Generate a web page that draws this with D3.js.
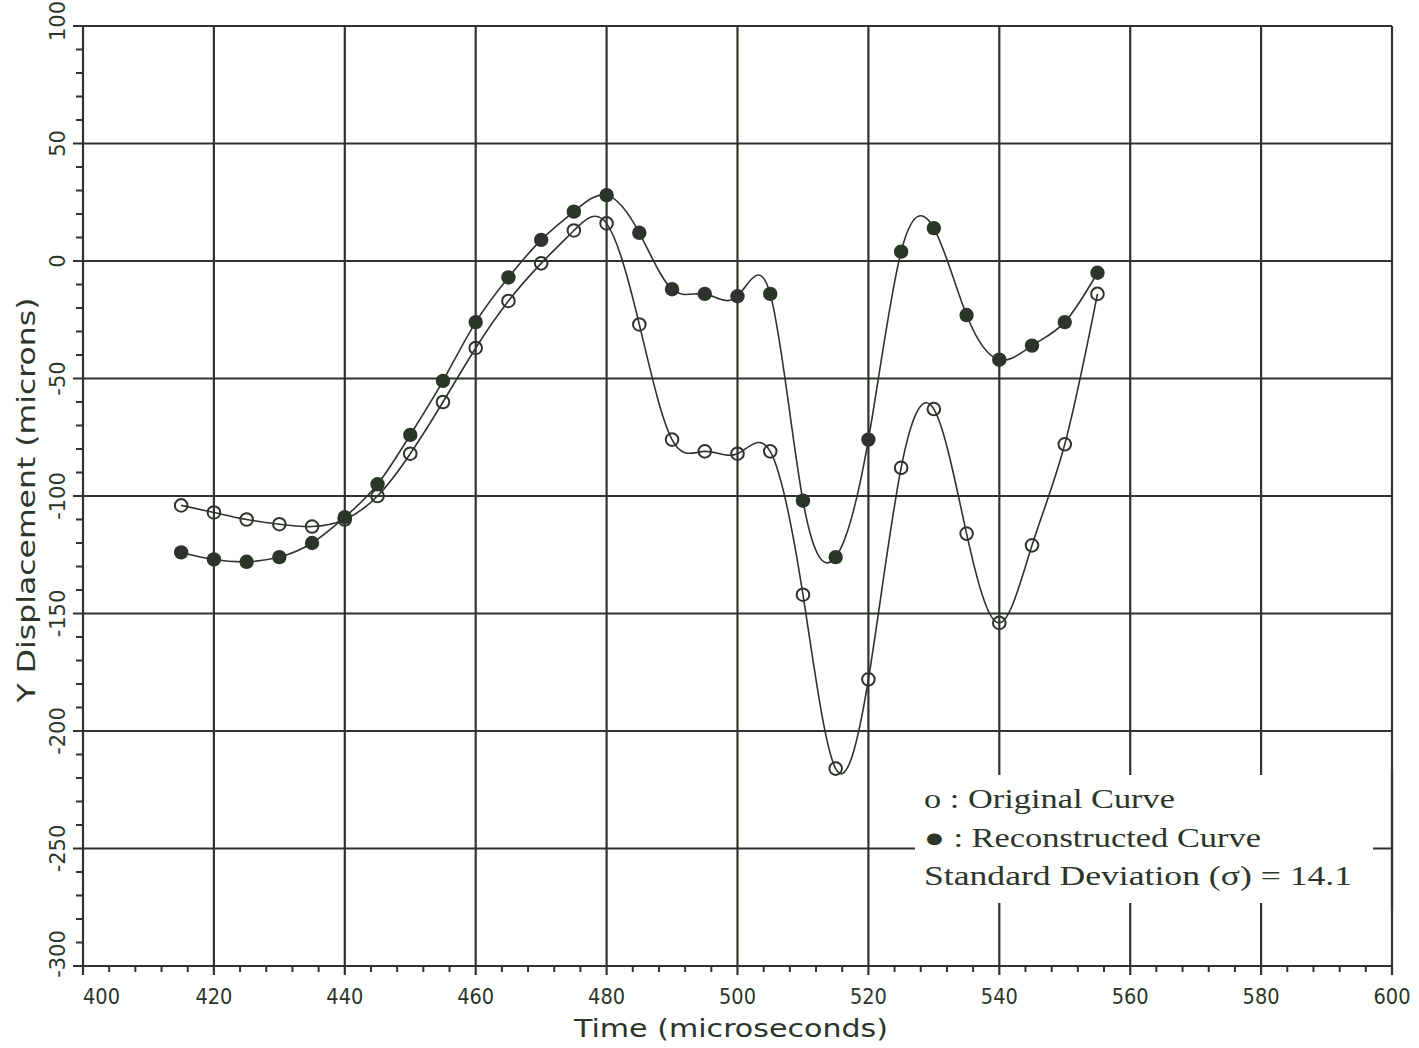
<!DOCTYPE html>
<html>
<head>
<meta charset="utf-8">
<script src="https://cdn.jsdelivr.net/npm/d3@7"></script>
<style>
  html, body { margin: 0; padding: 0; background: #ffffff; }
  svg { display: block; }
</style>
</head>
<body>
<svg id="chart" width="1419" height="1048"></svg>
<script>
// Sample times (microseconds)
const times = [415, 420, 425, 430, 435, 440, 445, 450, 455, 460, 465, 470, 475, 480, 485,
               490, 495, 500, 505, 510, 515, 520, 525, 530, 535, 540, 545, 550, 555];

// Y displacement of the original curve (microns)
const originalY = [-104, -107, -110, -112, -113, -110, -100, -82, -60, -37, -17, -1, 13, 16, -27,
                   -76, -81, -82, -81, -142, -216, -178, -88, -63, -116, -154, -121, -78, -14];

// Y displacement of the reconstructed curve (microns)
const reconstructedY = [-124, -127, -128, -126, -120, -109, -95, -74, -51, -26, -7, 9, 21, 28, 12,
                        -12, -14, -15, -14, -102, -126, -76, 4, 14, -23, -42, -36, -26, -5];

const xTicks = [400, 420, 440, 460, 480, 500, 520, 540, 560, 580, 600];
const yTicks = [100, 50, 0, -50, -100, -150, -200, -250, -300];

const legendLines = ["o : Original Curve", "\u25CF : Reconstructed Curve", "Standard Deviation (\u03C3) = 14.1"];

const ink = "#2c3529";
const svg = d3.select("#chart");

const x = d3.scaleLinear().domain([400, 600]).range([83, 1392]);
const y = d3.scaleLinear().domain([-300, 100]).range([966, 26]);

const axisFont = "'DejaVu Sans', sans-serif";

// Grid lines (major ticks), extending slightly past the frame
const grid = svg.append("g").attr("stroke", ink).attr("stroke-width", 2.2);
grid.selectAll("line.v").data(xTicks).join("line")
  .attr("class", "v")
  .attr("x1", d => x(d)).attr("x2", d => x(d))
  .attr("y1", y(100)).attr("y2", y(-300) + 9);
grid.selectAll("line.h").data(yTicks).join("line")
  .attr("class", "h")
  .attr("x1", x(400) - 10).attr("x2", x(600))
  .attr("y1", d => y(d)).attr("y2", d => y(d));

// Minor ticks
const minorX = d3.range(400, 600.1, 4).filter(v => v % 20 !== 0);
const minorY = d3.range(-300, 100.1, 10).filter(v => v % 50 !== 0);
const minor = svg.append("g").attr("stroke", ink).attr("stroke-width", 2);
minor.selectAll("line.mx").data(minorX).join("line")
  .attr("x1", d => x(d)).attr("x2", d => x(d))
  .attr("y1", y(-300)).attr("y2", y(-300) + 6);
minor.selectAll("line.my").data(minorY).join("line")
  .attr("x1", x(400) - 7).attr("x2", x(400))
  .attr("y1", d => y(d)).attr("y2", d => y(d));

// Tick labels on x
svg.append("g").selectAll("text").data(xTicks).join("text")
  .attr("x", d => x(d))
  .attr("y", 1004)
  .attr("text-anchor", d => d === 400 ? "start" : "middle")
  .attr("font-family", axisFont)
  .attr("font-size", 21)
  .attr("textLength", 37)
  .attr("lengthAdjust", "spacingAndGlyphs")
  .attr("fill", ink)
  .text(d => d);

// Tick labels on y (rotated)
const yLabelShift = v => (v === -300 ? -12 : v === 100 ? -5 : 0);
svg.append("g").selectAll("text").data(yTicks).join("text")
  .attr("transform", d => `translate(65,${y(d) + yLabelShift(d)}) rotate(-90)`)
  .attr("text-anchor", "middle")
  .attr("font-family", axisFont)
  .attr("font-size", 21)
  .attr("fill", ink)
  .text(d => d);

// Axis titles
svg.append("text")
  .attr("x", 731).attr("y", 1037)
  .attr("text-anchor", "middle")
  .attr("font-family", axisFont)
  .attr("font-size", 25)
  .attr("textLength", 314)
  .attr("lengthAdjust", "spacingAndGlyphs")
  .attr("fill", ink)
  .text("Time (microseconds)");

svg.append("text")
  .attr("transform", "translate(35,500) rotate(-90)")
  .attr("text-anchor", "middle")
  .attr("font-family", axisFont)
  .attr("font-size", 25)
  .attr("textLength", 405)
  .attr("lengthAdjust", "spacingAndGlyphs")
  .attr("fill", ink)
  .text("Y Displacement (microns)");

// Curves through the samples
const line = d3.line().curve(d3.curveNatural).x(d => x(d[0])).y(d => y(d[1]));
const origPts = times.map((t, i) => [t, originalY[i]]);
const recPts = times.map((t, i) => [t, reconstructedY[i]]);

svg.append("path").datum(origPts)
  .attr("d", line).attr("fill", "none").attr("stroke", ink).attr("stroke-width", 1.6);
svg.append("path").datum(recPts)
  .attr("d", line).attr("fill", "none").attr("stroke", ink).attr("stroke-width", 1.6);

// Markers
svg.append("g").selectAll("circle").data(origPts).join("circle")
  .attr("cx", d => x(d[0])).attr("cy", d => y(d[1])).attr("r", 6.3)
  .attr("fill", "none").attr("stroke", ink).attr("stroke-width", 2);
svg.append("g").selectAll("circle").data(recPts).join("circle")
  .attr("cx", d => x(d[0])).attr("cy", d => y(d[1])).attr("r", 7.2)
  .attr("fill", ink).attr("stroke", "none");

// Legend panel
svg.append("rect")
  .attr("x", 915).attr("y", 775).attr("width", 458).attr("height", 128)
  .attr("fill", "#ffffff");
// Frame edge on the right runs through the panel
svg.append("line")
  .attr("x1", x(600)).attr("x2", x(600)).attr("y1", 770).attr("y2", 910)
  .attr("stroke", ink).attr("stroke-width", 2.2);

const legendWidths = [251, 337, 428];
svg.append("g").selectAll("text").data(legendLines).join("text")
  .attr("x", 924)
  .attr("y", (d, i) => 808 + i * 38.5)
  .attr("font-family", "'Liberation Serif', 'DejaVu Serif', serif")
  .attr("font-size", 27)
  .attr("textLength", (d, i) => legendWidths[i])
  .attr("lengthAdjust", "spacingAndGlyphs")
  .attr("fill", ink)
  .text(d => d);
</script>
</body>
</html>
